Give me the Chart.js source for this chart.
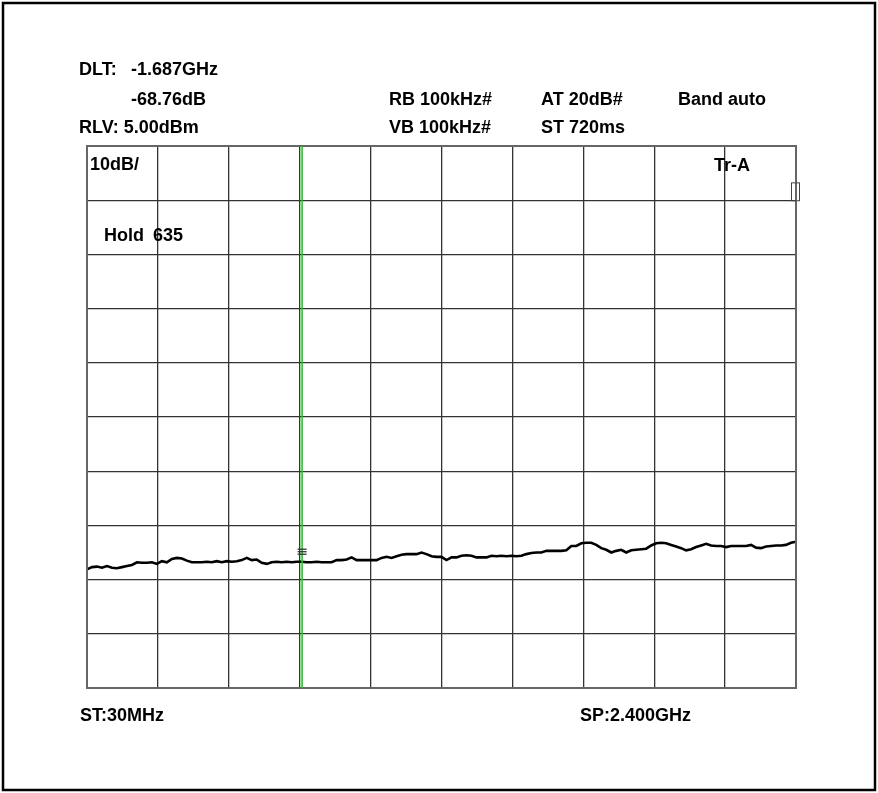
<!DOCTYPE html>
<html>
<head>
<meta charset="utf-8">
<script src="https://cdn.jsdelivr.net/npm/chart.js@4.4.1/dist/chart.umd.min.js"></script>
<style>
  html, body { margin: 0; padding: 0; background: #fff; }
  #wrap { position: relative; width: 878px; height: 793px; }
  canvas { display: block; }
</style>
</head>
<body>
<div id="wrap"><canvas id="c" width="878" height="793"></canvas></div>
<script>
// ---- Sweep settings ----
const startMHz = 30;
const stopMHz = 2400;
const refLevelDbm = 5;
const dbPerDiv = 10;
const divisionsY = 10;
const divisionsX = 10;

// ---- Grid tick values ----
const xGridMHz = [30, 267, 504, 741, 978, 1215, 1452, 1689, 1926, 2163, 2400];
const yGridDbm = [-95, -85, -75, -65, -55, -45, -35, -25, -15, -5, 5];

// ---- Trace A (max hold), dBm, evenly spaced sweep points ----
const traceDbm = [
  -73.1, -72.7, -72.6, -72.8, -72.5, -72.8, -72.9, -72.7, -72.5, -72.3,
  -71.8, -71.9, -71.9, -71.8, -72.1, -71.6, -71.8, -71.2, -71.0, -71.1,
  -71.5, -71.8, -71.8, -71.8, -71.7, -71.8, -71.6, -71.8, -71.6, -71.7,
  -71.6, -71.4, -71.0, -71.4, -71.3, -71.9, -72.1, -71.8, -71.7, -71.8,
  -71.7, -71.8, -71.7, -71.7, -71.8, -71.8, -71.7, -71.8, -71.8, -71.8,
  -71.4, -71.4, -71.3, -70.9, -71.4, -71.4, -71.4, -71.4, -71.4, -71.0,
  -70.8, -71.0, -70.7, -70.4, -70.3, -70.3, -70.3, -70.0, -70.3, -70.7,
  -70.8, -70.8, -71.4, -70.9, -70.9, -70.6, -70.5, -70.6, -70.9, -70.9,
  -70.9, -70.6, -70.7, -70.6, -70.7, -70.6, -70.7, -70.6, -70.3, -70.1,
  -70.0, -70.0, -69.7, -69.7, -69.7, -69.7, -69.6, -68.8, -68.8, -68.3,
  -68.2, -68.2, -68.6, -69.2, -69.5, -70.0, -69.7, -69.5, -70.0, -69.6,
  -69.5, -69.4, -69.3, -68.7, -68.3, -68.2, -68.3, -68.6, -68.9, -69.2,
  -69.6, -69.4, -69.0, -68.7, -68.4, -68.7, -68.8, -68.8, -69.0, -68.8,
  -68.8, -68.8, -68.8, -68.6, -69.1, -69.2, -68.9, -68.8, -68.7, -68.7,
  -68.6, -68.2, -68.0
];

// ---- Marker ----
const markerMHz = 749;
const markerLevelDbm = -71.7;
const refBoxDbm = [-1.8, -5.1];

// ---- Annotation texts ----
const headerTexts = [
  { t: "DLT:", x: 79, y: 70 },
  { t: "-1.687GHz", x: 131, y: 70 },
  { t: "-68.76dB", x: 131, y: 100 },
  { t: "RB 100kHz#", x: 389, y: 100 },
  { t: "AT 20dB#", x: 541, y: 100 },
  { t: "Band auto", x: 678, y: 100 },
  { t: "RLV: 5.00dBm", x: 79, y: 128 },
  { t: "VB 100kHz#", x: 389, y: 128 },
  { t: "ST 720ms", x: 541, y: 128 },
  { t: "10dB/", x: 90, y: 165 },
  { t: "Tr-A", x: 714, y: 166 },
  { t: "Hold", x: 104, y: 236 },
  { t: "635", x: 153, y: 236 },
  { t: "ST:30MHz", x: 80, y: 716 },
  { t: "SP:2.400GHz", x: 580, y: 716 }
];

const stepMHz = (stopMHz - startMHz) / (traceDbm.length - 1);
const tracePoints = traceDbm.map((v, i) => ({ x: startMHz + i * stepMHz, y: v }));

const overlay = {
  id: 'overlay',
  afterDraw(chart) {
    const ctx = chart.ctx;
    const a = chart.chartArea;
    const xs = chart.scales.x, ys = chart.scales.y;
    ctx.save();
    // plot border
    ctx.strokeStyle = '#666';
    ctx.lineWidth = 2;
    ctx.strokeRect(a.left, a.top, a.right - a.left, a.bottom - a.top);
    // marker line
    const mx = xs.getPixelForValue(markerMHz);
    ctx.strokeStyle = '#00dd00';
    ctx.lineWidth = 1.6;
    ctx.beginPath(); ctx.moveTo(mx, a.top); ctx.lineTo(mx, a.bottom); ctx.stroke();
    // marker glyph
    const my = ys.getPixelForValue(markerLevelDbm);
    ctx.strokeStyle = '#333';
    ctx.lineWidth = 1.3;
    [12.5, 10, 7.5].forEach(d => {
      ctx.beginPath(); ctx.moveTo(mx - 4.5, my - d); ctx.lineTo(mx + 4.5, my - d); ctx.stroke();
    });
    // reference box on right edge
    const y1 = ys.getPixelForValue(refBoxDbm[0]);
    const y2 = ys.getPixelForValue(refBoxDbm[1]);
    ctx.strokeStyle = '#444';
    ctx.lineWidth = 1;
    ctx.strokeRect(a.right - 4.5, y1, 8, y2 - y1);
    // texts
    ctx.fillStyle = '#000';
    ctx.font = 'bold 18px "Liberation Sans", Arial, sans-serif';
    ctx.textBaseline = 'middle';
    ctx.textAlign = 'left';
    headerTexts.forEach(o => ctx.fillText(o.t, o.x, o.y));
    // outer frame
    ctx.strokeStyle = '#000';
    ctx.lineWidth = 2.5;
    ctx.strokeRect(3, 3, 872, 787);
    ctx.restore();
  }
};

new Chart(document.getElementById('c'), {
  type: 'line',
  data: {
    datasets: [{
      data: tracePoints,
      borderColor: '#000',
      borderWidth: 2.6,
      pointRadius: 0,
      tension: 0,
      fill: false
    }]
  },
  options: {
    responsive: false,
    animation: false,
    devicePixelRatio: 1,
    layout: { padding: { left: 87, top: 146, right: 82, bottom: 105 } },
    plugins: { legend: { display: false }, tooltip: { enabled: false } },
    scales: {
      x: {
        type: 'linear', min: startMHz, max: stopMHz,
        afterBuildTicks: ax => { ax.ticks = xGridMHz.map(v => ({ value: v })); },
        ticks: { display: false },
        grid: { color: '#333', lineWidth: 1.3, drawTicks: false },
        border: { display: false }
      },
      y: {
        type: 'linear',
        min: refLevelDbm - dbPerDiv * divisionsY, max: refLevelDbm,
        afterBuildTicks: ax => { ax.ticks = yGridDbm.map(v => ({ value: v })); },
        ticks: { display: false },
        grid: { color: '#333', lineWidth: 1.3, drawTicks: false },
        border: { display: false }
      }
    }
  },
  plugins: [overlay]
});
</script>
</body>
</html>
